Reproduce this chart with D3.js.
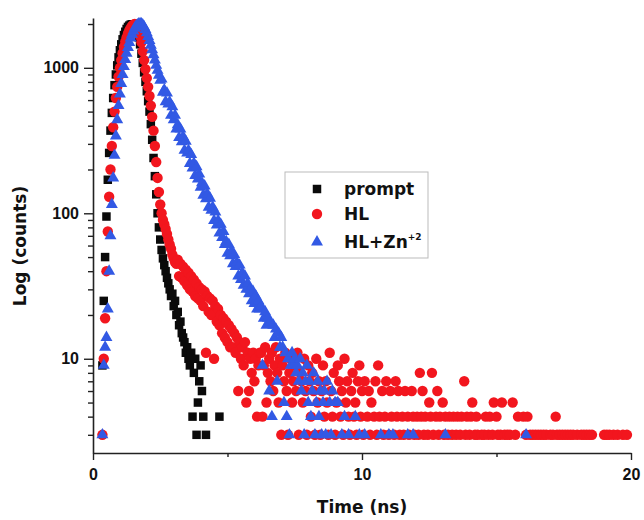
<!DOCTYPE html>
<html>
<head>
<meta charset="utf-8">
<script src="https://cdn.jsdelivr.net/npm/d3@7"></script>
<style>
  body { margin: 0; background: #fff; }
  svg text { font-family: "DejaVu Sans", sans-serif; font-weight: bold; fill: #111; }
  .tick text { font-family: "Liberation Sans", Arial, sans-serif; font-size: 16px; }
</style>
</head>
<body>
<svg id="chart" width="644" height="520"></svg>
<script>
// TCSPC channel width, channel 0 sits at 0 ns
const binWidth = 0.05;

// counts per channel
const promptCounts = [
  0,0,0,0,0,0,0,
  9,25,50,95,170,260,370,490,620,760,
  900,1040,1180,1320,1450,1570,1680,1770,1850,1910,
  1950,1980,1990,1980,1940,1870,1770,1620,1450,1250,
  1080,930,800,690,590,500,410,320,240,180,
  135,100,80,66,56,49,44,40,36,33,
  30,27,28,23,25,20,21,17,18,15,
  14,13,11,12,10,9,11,4,8,10,
  3,5,7,9,6,4,0,3,0,0,
  0,0,0,0,0,0,0,4
];

const hlCounts = [
  0,0,0,0,0,0,0,3,10,19,
  40,75,130,200,290,390,500,620,740,870,
  1000,1130,1260,1390,1510,1620,1720,1810,1880,1940,
  1980,2000,1990,1920,1800,1650,1500,1300,1130,980,
  850,740,640,550,460,370,290,225,175,140,
  115,100,90,84,78,72,66,61,57,52,
  49,46,45,48,37,45,36,43,34,41,
  32,39,30,37,29,35,27,33,26,31,
  25,30,23,29,11,27,21,26,20,25,
  10,23,18,22,17,20,15,19,14,18,
  13,17,12,16,12,15,11,14,6,13,
  10,12,9,13,5,11,6,10,8,11,
  7,10,4,9,11,11,4,9,12,5,
  8,10,7,11,6,9,12,8,5,10,
  3,9,7,11,6,3,8,10,5,7,
  9,6,11,3,8,7,5,10,6,3,
  9,7,4,8,6,3,10,5,7,3,
  6,9,4,7,5,3,11,6,4,8,
  3,5,9,7,4,6,3,10,5,7,
  4,3,6,8,4,5,3,7,9,4,
  6,3,7,2,4,6,3,5,2,4,
  7,3,9,4,2,6,3,4,7,2,
  3,6,4,2,3,7,4,6,3,2,
  4,3,6,2,4,3,1,6,4,3,
  2,4,3,8,4,6,3,4,2,3,
  5,4,8,3,2,4,6,3,4,2,
  5,3,4,1,3,4,2,3,4,2,
  3,4,1,3,4,2,7,3,4,2,
  3,4,5,2,3,4,3,2,1,3,
  2,3,4,2,3,4,2,3,5,2,
  4,3,2,3,5,2,3,1,3,2,
  3,2,5,1,3,2,4,2,1,2,
  4,1,3,4,2,3,1,3,2,3,
  1,3,2,3,1,3,2,3,1,2,
  3,1,3,2,4,3,1,3,2,3,
  1,3,2,3,1,3,2,3,1,2,
  3,2,1,3,2,3,1,3,2,3,
  1,3,2,1,2,1,0,2,1,2,
  3,2,3,1,3,2,1,3,2,1,
  3,2,1,2,3,1,2,3,1,2
];

const hlZnCounts = [
  0,0,0,0,0,0,0,3,9,12,
  14,22,40,70,115,175,250,340,440,550,
  660,780,900,1020,1140,1260,1380,1490,1600,1700,
  1790,1870,1930,1970,2000,2010,2000,1970,1910,1830,
  1740,1640,1540,1430,1330,1230,1130,1040,960,890,
  820,837,679,704,585,670,563,581,471,539,
  439,471,379,406,331,379,310,336,271,312,
  259,271,220,253,205,221,182,209,172,186,
  151,162,133,154,126,136,110,127,105,110,
  89,102,83,89,73,84,68,75,61,64,
  53,61,51,55,45,52,43,46,37,44,
  35,39,32,37,30,33,28,30,25,29,
  24,27,22,25,22,23,9,19,21,17,
  19,6,18,4,17,14,16,7,15,12,
  14,12,5,11,4,10,3,9,11,9,
  10,8,9,7,10,6,8,3,7,9,
  5,7,4,6,8,3,5,7,4,6,
  3,5,6,3,7,2,5,3,6,2,
  5,2,5,1,2,3,2,4,1,2,
  3,2,1,2,2,4,1,2,3,1,
  2,1,3,2,1,2,1,0,2,1,
  2,1,0,2,3,1,2,1,2,1,
  3,2,1,3,1,2,0,1,2,1,
  0,2,1,2,3,1,2,1,3,2,
  1,2,1,0,2,1,2,1,0,1,
  2,1,2,0,1,2,1,0,2,1,
  2,1,3,2,1,0,2,1,2,1,
  0,2,1,2,0,1,2,1,1,2,
  0,1,2,1,0,2,1,2,1,0,
  1,2,1,2,0,1,2,1,2,1,
  0,2,1,0,2,1,2,1,0,2,
  1,2,1,0,1,2,1,2,1,0,
  2,1,3,2,1,0,2,1,0,1
];

const xTicks = [0, 10, 20];
const xMinorTicks = [5, 15];
const yTicks = [10, 100, 1000];
const yMinorTicks = [3,4,5,6,7,8,9,20,30,40,50,60,70,80,90,200,300,400,500,600,700,800,900,2000];

const seriesNames = ["prompt", "HL", "HL+Zn"];
const seriesColors = ["#0a0a0a", "#f2161e", "#3259e4"];

const svg = d3.select("#chart");

const x = d3.scaleLinear().domain([0, 20]).range([93, 631]);
const y = d3.scaleLog().domain([2.25, 2200]).range([453, 18]);
const yMin = y.domain()[0];

const symbols = [
  d3.symbol().type(d3.symbolSquare).size(72),
  d3.symbol().type(d3.symbolCircle).size(85),
  d3.symbol().type(d3.symbolTriangle).size(62)
];

function drawSeries(counts, k) {
  const pts = counts
    .map((c, i) => ({ t: i * binWidth, c: c }))
    .filter(d => d.c >= yMin);

  svg.append("g")
    .selectAll("path")
    .data(pts)
    .enter()
    .append("path")
    .attr("transform", d => `translate(${x(d.t)},${y(d.c)})`)
    .attr("d", symbols[k])
    .attr("fill", seriesColors[k]);
}

drawSeries(promptCounts, 0);
drawSeries(hlCounts, 1);
drawSeries(hlZnCounts, 2);

// axes
const axisColor = "#222";

const gx = svg.append("g").attr("transform", "translate(0,453)");
gx.call(d3.axisBottom(x).tickValues(xTicks).tickSize(7).tickPadding(9).tickSizeOuter(0));
gx.append("g").call(d3.axisBottom(x).tickValues(xMinorTicks).tickSize(4).tickFormat(""))
  .select(".domain").remove();

const gy = svg.append("g").attr("transform", "translate(93,0)");
gy.call(d3.axisLeft(y).tickValues(yTicks).tickFormat(d3.format("d")).tickSize(9).tickPadding(5).tickSizeOuter(0));
gy.append("g").call(d3.axisLeft(y).tickValues(yMinorTicks).tickSize(5).tickFormat(""))
  .select(".domain").remove();

svg.selectAll(".domain").attr("stroke", axisColor).attr("stroke-width", 1.6);
svg.selectAll(".tick line").attr("stroke", axisColor).attr("stroke-width", 1.4);

// axis titles
svg.append("text")
  .attr("x", 362)
  .attr("y", 513)
  .attr("text-anchor", "middle")
  .style("font-size", "17px")
  .text("Time (ns)");

svg.append("text")
  .attr("transform", "translate(26,246) rotate(-90)")
  .attr("text-anchor", "middle")
  .style("font-size", "17px")
  .text("Log (counts)");

// legend
const legend = svg.append("g");
legend.append("rect")
  .attr("x", 285).attr("y", 172)
  .attr("width", 143).attr("height", 86)
  .attr("fill", "#fff")
  .attr("stroke", "#bbb")
  .attr("stroke-width", 1);

const rowY = [189, 214, 242];
seriesNames.forEach((name, k) => {
  legend.append("path")
    .attr("transform", `translate(317,${rowY[k]})`)
    .attr("d", symbols[k])
    .attr("fill", seriesColors[k]);

  const label = legend.append("text")
    .attr("x", 344)
    .attr("y", rowY[k] + 6)
    .style("font-size", "17px")
    .text(name);

  if (k === 2) {
    label.append("tspan")
      .attr("dy", -8)
      .style("font-size", "9px")
      .text("+2");
  }
});
</script>
</body>
</html>
